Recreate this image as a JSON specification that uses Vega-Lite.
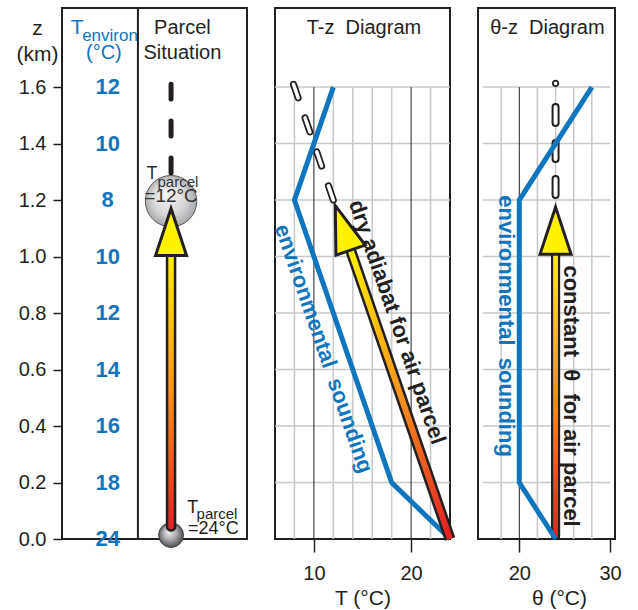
{
 "$schema": "https://vega.github.io/schema/vega-lite/v6.json",
 "padding": {"left": 15, "top": 6, "right": 5, "bottom": 5},
 "background": "white",
 "config": {
  "font": "Liberation Sans",
  "view": {"stroke": "#231f20", "strokeWidth": 2},
  "axis": {"labelFont": "Liberation Sans", "titleFont": "Liberation Sans", "labelColor": "#231f20", "titleColor": "#231f20", "tickColor": "#231f20", "domain": false, "grid": false, "labelFontSize": 20, "titleFontSize": 21, "titleFontWeight": "normal", "tickWidth": 1.5, "ticks": true},
  "text": {"font": "Liberation Sans"}
 },
 "datasets": {
  "one": [{}],
  "envT": [{"z": 0, "t": "24"}, {"z": 0.2, "t": "18"}, {"z": 0.4, "t": "16"}, {"z": 0.6, "t": "14"}, {"z": 0.8, "t": "12"}, {"z": 1.0, "t": "10"}, {"z": 1.2, "t": "8"}, {"z": 1.4, "t": "10"}, {"z": 1.6, "t": "12"}],
  "parcelDash": [{"z": 1.296}, {"z": 1.61}],
  "hgrid": [{"z": 0.2}, {"z": 0.4}, {"z": 0.6}, {"z": 0.8}, {"z": 1.0}, {"z": 1.2}, {"z": 1.4}, {"z": 1.6}],
  "tzVgrid": [{"T": 8}, {"T": 12}, {"T": 14}, {"T": 16}, {"T": 18}, {"T": 22}],
  "tzVdark": [{"T": 10}, {"T": 20}],
  "tzSounding": [{"T": 24, "z": 0}, {"T": 18, "z": 0.2}, {"T": 8, "z": 1.2}, {"T": 12, "z": 1.6}],
  "tzShaft": [{"T": 24, "z": 0}, {"T": 13.6, "z": 1.04}],
  "tzDash": [{"T": 12, "z": 1.2}, {"T": 7.9, "z": 1.61}],
  "thVgrid": [{"th": 18}, {"th": 22}, {"th": 24}, {"th": 26}, {"th": 28}],
  "thVdark": [{"th": 20}],
  "thSounding": [{"th": 24, "z": 0}, {"th": 20, "z": 0.2}, {"th": 20, "z": 1.2}, {"th": 28, "z": 1.6}],
  "thDash": [{"th": 24, "z": 1.218}, {"th": 24, "z": 1.54}]
 },
 "hconcat": [
  {
   "width": 185, "height": 531,
   "layer": [
    {"data": {"name": "envT"},
     "mark": {"type": "text", "fontWeight": "bold", "fontSize": 22, "color": "#1474bb", "baseline": "middle", "align": "center"},
     "encoding": {
      "x": {"datum": 0.2324, "type": "quantitative", "scale": {"domain": [0, 1], "nice": false, "zero": false}, "axis": null},
      "y": {"field": "z", "type": "quantitative", "scale": {"domain": [0, 1.88], "nice": false, "zero": false},
       "axis": {"values": [0, 0.2, 0.4, 0.6, 0.8, 1, 1.2, 1.4, 1.6], "format": ".1f", "tickSize": 9, "labelPadding": 7, "title": ["z", "(km)"], "titleAngle": 0, "titleX": -25, "titleY": 26, "titleAlign": "center", "titleBaseline": "alphabetic", "titleLineHeight": 26}},
      "text": {"field": "t"}}},
    {"data": {"name": "one"},
     "mark": {"type": "rule", "color": "#231f20", "strokeWidth": 2},
     "encoding": {"x": {"datum": 0.4054, "axis": null}, "y": {"datum": 0}, "y2": {"datum": 1.88}}},
    {"data": {"name": "one"},
     "mark": {"type": "text", "text": "T", "fontSize": 21, "color": "#1474bb", "align": "left", "baseline": "alphabetic"},
     "encoding": {"x": {"datum": 0.0216, "axis": null}, "y": {"datum": 1.788}}},
    {"data": {"name": "one"},
     "mark": {"type": "text", "text": "environ", "fontSize": 17, "color": "#1474bb", "align": "left", "baseline": "alphabetic"},
     "encoding": {"x": {"datum": 0.0865, "axis": null}, "y": {"datum": 1.763}}},
    {"data": {"name": "one"},
     "mark": {"type": "text", "text": "(°C)", "fontSize": 20, "color": "#1474bb", "align": "center", "baseline": "alphabetic"},
     "encoding": {"x": {"datum": 0.2108, "axis": null}, "y": {"datum": 1.699}}},
    {"data": {"name": "one"},
     "mark": {"type": "text", "text": "Parcel", "fontSize": 20, "color": "#231f20", "align": "center", "baseline": "alphabetic"},
     "encoding": {"x": {"datum": 0.6595, "axis": null}, "y": {"datum": 1.788}}},
    {"data": {"name": "one"},
     "mark": {"type": "text", "text": "Situation", "fontSize": 20, "color": "#231f20", "align": "center", "baseline": "alphabetic"},
     "encoding": {"x": {"datum": 0.6595, "axis": null}, "y": {"datum": 1.699}}},
    {"data": {"name": "parcelDash"},
     "mark": {"type": "line", "color": "#231f20", "strokeWidth": 5, "strokeDash": [15, 22], "strokeCap": "round"},
     "encoding": {"x": {"datum": 0.5946, "axis": null}, "y": {"field": "z", "type": "quantitative"}, "order": {"field": "z", "type": "quantitative"}}},
    {"data": {"name": "one"},
     "mark": {"type": "point", "shape": "circle", "size": 2642, "filled": true, "opacity": 1,
      "fill": {"gradient": "radial", "x1": 0.4, "y1": 0.35, "r1": 0, "x2": 0.5, "y2": 0.5, "r2": 0.55, "stops": [{"offset": 0, "color": "#f7f7f7"}, {"offset": 0.6, "color": "#d4d5d6"}, {"offset": 1, "color": "#9d9fa2"}]},
      "stroke": "#58595b", "strokeWidth": 1},
     "encoding": {"x": {"datum": 0.5946, "axis": null}, "y": {"datum": 1.196}}},
    {"data": {"name": "one"},
     "mark": {"type": "point", "shape": "circle", "size": 616, "filled": true, "opacity": 1,
      "fill": {"gradient": "radial", "x1": 0.4, "y1": 0.35, "r1": 0, "x2": 0.5, "y2": 0.5, "r2": 0.55, "stops": [{"offset": 0, "color": "#f2f2f2"}, {"offset": 0.5, "color": "#a7a9ac"}, {"offset": 1, "color": "#414042"}]},
      "stroke": "#414042", "strokeWidth": 1},
     "encoding": {"x": {"datum": 0.5946, "axis": null}, "y": {"datum": 0.014}}},
    {"data": {"name": "one"},
     "mark": {"type": "text", "text": "T", "fontSize": 18, "color": "#333333", "align": "left", "baseline": "alphabetic"},
     "encoding": {"x": {"datum": 0.4541, "axis": null}, "y": {"datum": 1.274}}},
    {"data": {"name": "one"},
     "mark": {"type": "text", "text": "parcel", "fontSize": 15, "color": "#333333", "align": "left", "baseline": "alphabetic"},
     "encoding": {"x": {"datum": 0.5173, "axis": null}, "y": {"datum": 1.246}}},
    {"data": {"name": "one"},
     "mark": {"type": "text", "text": "=12°C", "fontSize": 19, "color": "#333333", "align": "left", "baseline": "alphabetic"},
     "encoding": {"x": {"datum": 0.4416, "axis": null}, "y": {"datum": 1.193}}},
    {"data": {"name": "one"},
     "mark": {"type": "text", "text": "T", "fontSize": 18, "color": "#231f20", "align": "left", "baseline": "alphabetic"},
     "encoding": {"x": {"datum": 0.6865, "axis": null}, "y": {"datum": 0.092}}},
    {"data": {"name": "one"},
     "mark": {"type": "text", "text": "parcel", "fontSize": 15, "color": "#231f20", "align": "left", "baseline": "alphabetic"},
     "encoding": {"x": {"datum": 0.7405, "axis": null}, "y": {"datum": 0.071}}},
    {"data": {"name": "one"},
     "mark": {"type": "text", "text": "=24°C", "fontSize": 18, "color": "#231f20", "align": "left", "baseline": "alphabetic"},
     "encoding": {"x": {"datum": 0.6919, "axis": null}, "y": {"datum": 0.018}}},
    {"data": {"name": "one"},
     "mark": {"type": "bar", "orient": "vertical", "width": 8, "cornerRadius": 4,
      "fill": {"gradient": "linear", "x1": 0, "y1": 1, "x2": 0, "y2": 0, "stops": [{"offset": 0, "color": "#e31e24"}, {"offset": 0.5, "color": "#f7941d"}, {"offset": 1, "color": "#fff200"}]},
      "stroke": "#231f20", "strokeWidth": 2.5},
     "encoding": {"x": {"datum": 0.5946, "axis": null}, "y": {"datum": 0.03}, "y2": {"datum": 1.02}}},
    {"data": {"name": "one"},
     "mark": {"type": "point", "shape": "M0,0L0.66,2L-0.66,2Z", "size": 2209, "filled": true, "opacity": 1, "fill": "#fff200", "stroke": "#231f20", "strokeWidth": 3, "strokeJoin": "miter", "angle": 0},
     "encoding": {"x": {"datum": 0.5946, "axis": null}, "y": {"datum": 1.17}}}
   ]
  },
  {
   "width": 175, "height": 531,
   "layer": [
    {"data": {"name": "hgrid"},
     "mark": {"type": "rule", "color": "#c7c8ca", "strokeWidth": 1.5},
     "encoding": {
      "x": {"datum": 6, "type": "quantitative", "scale": {"domain": [6, 24], "nice": false, "zero": false},
       "axis": {"values": [10, 20], "ticks": true, "tickSize": 13, "tickWidth": 1.5, "tickColor": "#231f20", "labelPadding": 11, "title": "T (°C)", "titlePadding": 4, "zindex": 1}},
      "x2": {"datum": 24},
      "y": {"field": "z", "type": "quantitative", "scale": {"domain": [0, 1.88], "nice": false, "zero": false}, "axis": null}}},
    {"data": {"name": "tzVgrid"},
     "mark": {"type": "rule", "color": "#c7c8ca", "strokeWidth": 1.5},
     "encoding": {"x": {"field": "T", "type": "quantitative"}, "y": {"datum": 0, "axis": null}, "y2": {"datum": 1.6}}},
    {"data": {"name": "tzVdark"},
     "mark": {"type": "rule", "color": "#231f20", "strokeWidth": 1},
     "encoding": {"x": {"field": "T", "type": "quantitative"}, "y": {"datum": 0, "axis": null}, "y2": {"datum": 1.6}}},
    {"data": {"name": "tzDash"},
     "mark": {"type": "line", "color": "#231f20", "strokeWidth": 7, "strokeDash": [15, 21], "strokeCap": "round"},
     "encoding": {"x": {"field": "T", "type": "quantitative"}, "y": {"field": "z", "type": "quantitative", "axis": null}, "order": {"field": "z", "type": "quantitative"}}},
    {"data": {"name": "tzDash"},
     "mark": {"type": "line", "color": "#ffffff", "strokeWidth": 3.5, "strokeDash": [15, 21], "strokeCap": "round"},
     "encoding": {"x": {"field": "T", "type": "quantitative"}, "y": {"field": "z", "type": "quantitative", "axis": null}, "order": {"field": "z", "type": "quantitative"}}},
    {"data": {"name": "tzSounding"},
     "mark": {"type": "line", "color": "#0f75bc", "strokeWidth": 5},
     "encoding": {"x": {"field": "T", "type": "quantitative"}, "y": {"field": "z", "type": "quantitative", "axis": null}, "order": {"field": "z", "type": "quantitative"}}},
    {"data": {"name": "tzShaft"},
     "mark": {"type": "line", "color": "#231f20", "strokeWidth": 11},
     "encoding": {"x": {"field": "T", "type": "quantitative"}, "y": {"field": "z", "type": "quantitative", "axis": null}, "order": {"field": "z", "type": "quantitative"}}},
    {"data": {"name": "tzShaft"},
     "mark": {"type": "line", "strokeWidth": 6,
      "stroke": {"gradient": "linear", "x1": 1, "y1": 1, "x2": 0, "y2": 0, "stops": [{"offset": 0, "color": "#e31e24"}, {"offset": 0.5, "color": "#f7941d"}, {"offset": 1, "color": "#fff200"}]}},
     "encoding": {"x": {"field": "T", "type": "quantitative"}, "y": {"field": "z", "type": "quantitative", "axis": null}, "order": {"field": "z", "type": "quantitative"}}},
    {"data": {"name": "one"},
     "mark": {"type": "point", "shape": "M0,0L0.66,2L-0.66,2Z", "size": 2209, "filled": true, "opacity": 1, "fill": "#fff200", "stroke": "#231f20", "strokeWidth": 3, "strokeJoin": "miter", "angle": 341},
     "encoding": {"x": {"datum": 12.2}, "y": {"datum": 1.18, "axis": null}}},
    {"data": {"name": "one"},
     "mark": {"type": "text", "text": "T-z\u00a0 Diagram", "fontSize": 20, "color": "#231f20", "align": "center", "baseline": "alphabetic"},
     "encoding": {"x": {"datum": 15.15}, "y": {"datum": 1.788, "axis": null}}},
    {"data": {"name": "one"},
     "mark": {"type": "text", "text": "dry adiabat for air parcel", "fontSize": 22, "fontWeight": "bold", "color": "#231f20", "align": "center", "baseline": "middle", "angle": 71},
     "encoding": {"x": {"datum": 18.56}, "y": {"datum": 0.768, "axis": null}}},
    {"data": {"name": "one"},
     "mark": {"type": "text", "text": "environmental\u00a0 sounding", "fontSize": 22, "fontWeight": "bold", "color": "#0f75bc", "align": "center", "baseline": "middle", "angle": 71},
     "encoding": {"x": {"datum": 11.0}, "y": {"datum": 0.674, "axis": null}}}
   ]
  },
  {
   "width": 137, "height": 531,
   "layer": [
    {"data": {"name": "hgrid"},
     "mark": {"type": "rule", "color": "#c7c8ca", "strokeWidth": 1.5},
     "encoding": {
      "x": {"datum": 16, "type": "quantitative", "scale": {"domain": [16, 30], "nice": false, "zero": false},
       "axis": {"values": [20, 30], "ticks": true, "tickSize": 13, "tickWidth": 1.5, "tickColor": "#231f20", "labelPadding": 11, "title": "θ (°C)", "titlePadding": 4, "titleX": 81, "titleAlign": "center", "zindex": 1}},
      "x2": {"datum": 30},
      "y": {"field": "z", "type": "quantitative", "scale": {"domain": [0, 1.88], "nice": false, "zero": false}, "axis": null}}},
    {"data": {"name": "thVgrid"},
     "mark": {"type": "rule", "color": "#c7c8ca", "strokeWidth": 1.5},
     "encoding": {"x": {"field": "th", "type": "quantitative"}, "y": {"datum": 0, "axis": null}, "y2": {"datum": 1.6}}},
    {"data": {"name": "thVdark"},
     "mark": {"type": "rule", "color": "#231f20", "strokeWidth": 1},
     "encoding": {"x": {"field": "th", "type": "quantitative"}, "y": {"datum": 0, "axis": null}, "y2": {"datum": 1.6}}},
    {"data": {"name": "thDash"},
     "mark": {"type": "line", "color": "#231f20", "strokeWidth": 8, "strokeDash": [16, 20], "strokeCap": "round"},
     "encoding": {"x": {"field": "th", "type": "quantitative"}, "y": {"field": "z", "type": "quantitative", "axis": null}, "order": {"field": "z", "type": "quantitative"}}},
    {"data": {"name": "thDash"},
     "mark": {"type": "line", "color": "#ffffff", "strokeWidth": 4, "strokeDash": [16, 20], "strokeCap": "round"},
     "encoding": {"x": {"field": "th", "type": "quantitative"}, "y": {"field": "z", "type": "quantitative", "axis": null}, "order": {"field": "z", "type": "quantitative"}}},
    {"data": {"name": "one"},
     "mark": {"type": "point", "shape": "circle", "size": 30, "filled": true, "opacity": 1, "fill": "#ffffff", "stroke": "#231f20", "strokeWidth": 1.8},
     "encoding": {"x": {"datum": 24}, "y": {"datum": 1.613, "axis": null}}},
    {"data": {"name": "one"},
     "mark": {"type": "bar", "orient": "vertical", "width": 7, "cornerRadius": 3,
      "fill": {"gradient": "linear", "x1": 0, "y1": 1, "x2": 0, "y2": 0, "stops": [{"offset": 0, "color": "#e31e24"}, {"offset": 0.5, "color": "#f7941d"}, {"offset": 1, "color": "#fff200"}]},
      "stroke": "#231f20", "strokeWidth": 2.2},
     "encoding": {"x": {"datum": 24}, "y": {"datum": 0, "axis": null}, "y2": {"datum": 1.02}}},
    {"data": {"name": "thSounding"},
     "mark": {"type": "line", "color": "#0f75bc", "strokeWidth": 5},
     "encoding": {"x": {"field": "th", "type": "quantitative"}, "y": {"field": "z", "type": "quantitative", "axis": null}, "order": {"field": "z", "type": "quantitative"}}},
    {"data": {"name": "one"},
     "mark": {"type": "point", "shape": "M0,0L0.66,2L-0.66,2Z", "size": 2209, "filled": true, "opacity": 1, "fill": "#fff200", "stroke": "#231f20", "strokeWidth": 3, "strokeJoin": "miter", "angle": 0},
     "encoding": {"x": {"datum": 24}, "y": {"datum": 1.175, "axis": null}}},
    {"data": {"name": "one"},
     "mark": {"type": "text", "text": "θ-z\u00a0 Diagram", "fontSize": 20, "color": "#231f20", "align": "center", "baseline": "alphabetic"},
     "encoding": {"x": {"datum": 23.1}, "y": {"datum": 1.788, "axis": null}}},
    {"data": {"name": "one"},
     "mark": {"type": "text", "text": "environmental\u00a0 sounding", "fontSize": 22, "fontWeight": "bold", "color": "#0f75bc", "align": "center", "baseline": "middle", "angle": 90},
     "encoding": {"x": {"datum": 18.5}, "y": {"datum": 0.754, "axis": null}}},
    {"data": {"name": "one"},
     "mark": {"type": "text", "text": "constant\u00a0 θ\u00a0 for air parcel", "fontSize": 22, "fontWeight": "bold", "color": "#231f20", "align": "center", "baseline": "middle", "angle": 90},
     "encoding": {"x": {"datum": 25.7}, "y": {"datum": 0.506, "axis": null}}}
   ]
  }
 ],
 "spacing": 28,
 "bounds": "flush"
}
